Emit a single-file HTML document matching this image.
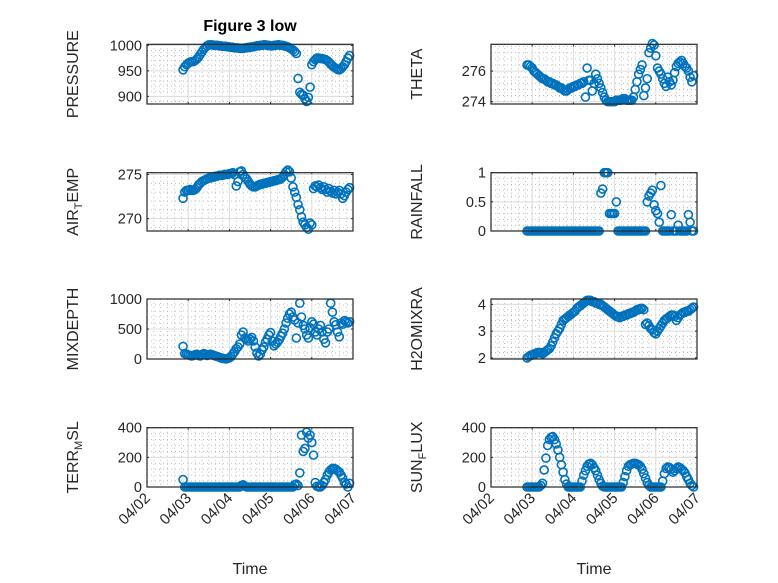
<!DOCTYPE html>
<html><head><meta charset="utf-8"><style>
html,body{margin:0;padding:0;background:#fff;}
svg{display:block;font-family:"Liberation Sans","DejaVu Sans",sans-serif;}
</style></head><body>
<svg id="fig" width="778" height="583" viewBox="0 0 778 583" xmlns="http://www.w3.org/2000/svg">
<rect width="778" height="583" fill="#fff"/>
<text x="250" y="31" text-anchor="middle" font-size="16" font-weight="bold" fill="#000">Figure 3 low</text>
</svg>
<script>
const xTickLabels = ["04/02","04/03","04/04","04/05","04/06","04/07"];
const tStart = 0.875, tStep = 1/24;
const pressure = [952,958,962,965, 967,968,968,970,973,977, 982,987,992,996,999,1001,
1001,1001,1000,1000,1000,999,999,998,998,998,997,997,
996,996,995,995,995,994,994,994,995,995,996,996,
997,997,998,999,999,1000,1000,1001,1001,1000,1000,999,
999,1000,1000,1001,1001,1000,1000,999,998,997,995,993,
991,988,984,935,908,904, 902,895,890,898,918,962,
968,972,975,975,974,974,973,972,970,967,963,960,
957,955,953,952,954,958,962,968,975,980];
const theta = [276.4,276.4,276.3,276.2,276.0,275.9,275.8,275.7,275.6,275.5,275.5,275.4,
275.3,275.3,275.2,275.2,275.1,275.1,275.0,274.9,274.9,274.8,274.7,274.7,
274.8,274.9,274.9,275.0,275.0,275.1,275.1,275.2,275.2,275.3,274.3,276.2,
275.4,275.4,274.7,275.2,275.8,275.5,275.2,274.9,274.6,274.3,274.1,274.0,
274.0,274.0,274.0,274.0,274.1,274.1,274.1,274.1,274.2,274.2,274.1,274.1,
274.1,274.1,274.3,274.8,275.3,275.8,276.1,276.4,274.4,274.9,275.5,277.2,
277.5,277.8,277.7,277.0,276.2,276.0,275.8,275.5,275.2,275.0,275.6,275.3,
275.1,275.4,275.9,276.3,276.5,276.6,276.7,276.5,276.3,276.2,276.0,275.6,275.3,275.7];
const airTemp = [272.3,273.0,273.2,273.2,273.3,273.2,273.2,273.3,273.5,273.8,274.0,274.2,
274.3,274.4,274.5,274.6,274.6,274.7,274.7,274.8,274.8,274.9,274.9,274.9,
275.0,275.0,275.0,275.1,275.1,275.2,275.0,273.7,274.2,275.3,275.4,275.0,
274.7,274.5,274.2,273.9,273.7,273.6,273.6,273.7,273.8,273.9,273.9,274.0,
274.0,274.1,274.1,274.2,274.2,274.3,274.3,274.4,274.4,274.5,274.7,275.0,
275.3,275.5,275.3,274.6,273.6,273.0,272.4,271.6,271.0,270.2,269.6,269.3,
269.0,268.8,269.5,269.3,273.4,273.7,273.6,273.8,273.5,273.3,273.6,273.3,
273.0,273.4,273.1,272.9,273.2,272.8,273.0,273.2,272.8,272.3,272.6,273.0,273.3,273.5];
const rainfall = [0,0,0,0,0,0,0,0,0,0,0,0,0,0,0,0,0,0,0,0,0,0,0,0,0,0,0,0,0,0,0,0,0,0,0,0,0,0,0,0,0,0,0,
0.65,0.72,1.0,1.0,1.0,0.3,0.3,0.3,0.3,0.5,
0,0,0,0,0,0,0,0,0,0,0,0,0,0,0,0,0,
0.5,0.6,0.65,0.7,0.45,0.35,0.3,0.15,0.78,
0,0,0,0,0, 0.28,0,0,0, 0.1,0,0,0,0,0, 0.28,0.15,0,0];
const mixDepth = [210,90,80,70,60,50,60,70,80,60,50,70,
90,80,60,70,80,70,60,50,40,30,20,10,
5,0,10,20,40,80,120,170,200,250,400,450,
350,330,300,330,360,300,200,100,50,80,150,200,
280,330,400,440,300,220,250,280,320,380,430,500,
600,680,750,780,700,650,350,600,930,700,560,500,
400,350,520,620,580,450,400,500,560,450,330,270,
450,500,930,780,620,570,450,370,600,580,640,620,600,620];
const h2oMix = [2.0,2.05,2.1,2.1,2.15,2.15,2.2,2.2,2.2,2.15,2.2,2.25,
2.3,2.35,2.45,2.6,2.75,2.9,3.0,3.1,3.25,3.4,3.45,3.5,
3.55,3.6,3.65,3.7,3.75,3.85,3.9,3.95,4.0,4.05,4.1,4.15,
4.15,4.15,4.1,4.1,4.05,4.05,4.0,4.0,3.95,3.9,3.85,3.8,
3.75,3.7,3.65,3.6,3.55,3.55,3.5,3.55,3.55,3.6,3.6,3.65,
3.65,3.7,3.7,3.75,3.8,3.8,3.85,3.85,3.8,3.25,3.3,3.2,
3.1,3.05,2.95,2.9,3.0,3.1,3.2,3.3,3.4,3.45,3.5,3.55,
3.6,3.6,3.55,3.4,3.5,3.6,3.65,3.7,3.7,3.75,3.75,3.8,3.85,3.9];
const terrMsl = [50,0,0,0,0,0,0,0,0,0,0,0,0,0,0,0,0,0,0,0,0,0,0,0,0,0,0,0,0,0,0,0,0,0,10,15,5,
0,0,0,0,0,0,0,0,0,0,0,0,0,0,0,0,0,0,0,0,0,0,0,0,0,0,0,0,15,20,10,
95,350,240,260,370,330,350,300,215,30,5,0,0,10,30,50,80,100,115,125,125,120,110,100,80,60,30,20,0,25];
const sunFlux = [0,0,0,0,0,0,0,0,10,25,115,195,280,320,335,340,320,290,250,200,150,100,50,20,
0,0,0,0,0,0,0,0,40,80,110,140,155,160,150,130,110,80,50,25,5,
0,0,0,0,0,0,0,0,0,0,0,30,70,110,140,150,155,160,160,155,150,140,120,90,60,30,10,
0,0,0,0,0,0,0,40,90,125,135,130,120,100,110,125,135,130,120,110,95,70,50,25,10,0];

const NS = "http://www.w3.org/2000/svg";
const svg = document.getElementById("fig");
function el(tag, attrs, parent){ const e=document.createElementNS(NS,tag); for(const k in attrs) e.setAttribute(k,attrs[k]); (parent||svg).appendChild(e); return e; }

const colX = [147, 491], W = 206;
const rowY = [[44.3,104],[172.7,231],[299,359],[427.7,487]];
const panels = [
 {name:"pressure", col:0,row:0,data:pressure,ylim:[885,1002],ticks:[900,950,1000],label:["PRESSURE"]},
 {name:"theta", col:1,row:0,data:theta,ylim:[273.85,277.75],ticks:[274,276],label:["THETA"]},
 {name:"air-temp", col:0,row:1,data:airTemp,ylim:[268.6,275.2],ticks:[270,275],label:["AIR","T","EMP"]},
 {name:"rainfall", col:1,row:1,data:rainfall,ylim:[0,1],ticks:[0,0.5,1],label:["RAINFALL"]},
 {name:"mixdepth", col:0,row:2,data:mixDepth,ylim:[0,1000],ticks:[0,500,1000],label:["MIXDEPTH"]},
 {name:"h2omixra", col:1,row:2,data:h2oMix,ylim:[1.96,4.2],ticks:[2,3,4],label:["H2OMIXRA"]},
 {name:"terr-msl", col:0,row:3,data:terrMsl,ylim:[0,400],ticks:[0,200,400],label:["TERR","M","SL"]},
 {name:"sun-flux", col:1,row:3,data:sunFlux,ylim:[0,400],ticks:[0,200,400],label:["SUN","F","LUX"]}
];

panels.forEach(p=>{
  const x0=colX[p.col], x1=x0+W, yt=rowY[p.row][0], yb=rowY[p.row][1];
  const xs = d => x0 + d/5*W;
  const ys = v => yb - (v-p.ylim[0])/(p.ylim[1]-p.ylim[0])*(yb-yt);
  const g = el("g",{});
  
  
  el("rect",{x:x0,y:yt,width:W,height:yb-yt,fill:"#fff"},g);
  for(let d=0; d<5; d++) for(let k=1;k<6;k++){
    const x=xs(d+k/6);
    el("line",{x1:x,x2:x,y1:yt,y2:yb,stroke:"#b0b0b0","stroke-width":0.8,"stroke-dasharray":"1,3"},g);
  }
  const step = p.ticks[1]-p.ticks[0];
  for(let v=p.ticks[0]-step; v<=p.ylim[1]+step; v+=step/5){
    if(v<=p.ylim[0]||v>=p.ylim[1]) continue;
    const y=ys(v);
    el("line",{x1:x0,x2:x1,y1:y,y2:y,stroke:"#b0b0b0","stroke-width":0.8,"stroke-dasharray":"1,3"},g);
  }
  xTickLabels.forEach((lab,i)=>{
    const x=xs(i);
    el("line",{x1:x,x2:x,y1:yt,y2:yb,stroke:"#dcdcdc","stroke-width":1},g);
    el("line",{x1:x,x2:x,y1:yb,y2:yb-2,stroke:"#262626","stroke-width":1},g);
    el("line",{x1:x,x2:x,y1:yt,y2:yt+2,stroke:"#262626","stroke-width":1},g);
    if(p.row===3){
      const t=el("text",{x:x+4,y:yb+12,"font-size":15,fill:"#262626","text-anchor":"end",transform:`rotate(-45 ${x+4} ${yb+12})`},g);
      
      
      t.textContent=lab;
    }
  });
  p.ticks.forEach(v=>{
    const y=ys(v);
    el("line",{x1:x0,x2:x1,y1:y,y2:y,stroke:"#dcdcdc","stroke-width":1},g);
    el("line",{x1:x0,x2:x0+2,y1:y,y2:y,stroke:"#262626","stroke-width":1},g);
    el("line",{x1:x1,x2:x1-2,y1:y,y2:y,stroke:"#262626","stroke-width":1},g);
    const t=el("text",{x:x0-5,y:y+5,"font-size":14.5,fill:"#262626","text-anchor":"end"},g);
    
    
    t.textContent=String(v);
  });
  p.data.forEach((v,i)=>{
    const c=el("circle",{cx:xs(tStart+i*tStep),cy:ys(v),r:4,fill:"none",stroke:"#0072BD","stroke-width":1.6},g);
    
    
  });
  el("rect",{x:x0,y:yt,width:W,height:yb-yt,fill:"none",stroke:"#262626","stroke-width":1.2},g);
  const lx = x0-69, ly=(yt+yb)/2;
  const t=el("text",{x:lx,y:ly,"font-size":16,fill:"#262626","text-anchor":"middle",transform:`rotate(-90 ${lx} ${ly})`},g);
  
  
  if(p.label.length===1){ t.textContent=p.label[0]; }
  else {
    const a=el("tspan",{},t); a.textContent=p.label[0];
    const b=el("tspan",{"font-size":11,dy:4},t); b.textContent=p.label[1];
    const c=el("tspan",{dy:-4},t); c.textContent=p.label[2];
  }
  if(p.row===3){
    const tt=el("text",{x:x0+W/2,y:574,"font-size":16,fill:"#262626","text-anchor":"middle"},g);
    
    
    tt.textContent="Time";
  }
});
</script>
</body></html>
